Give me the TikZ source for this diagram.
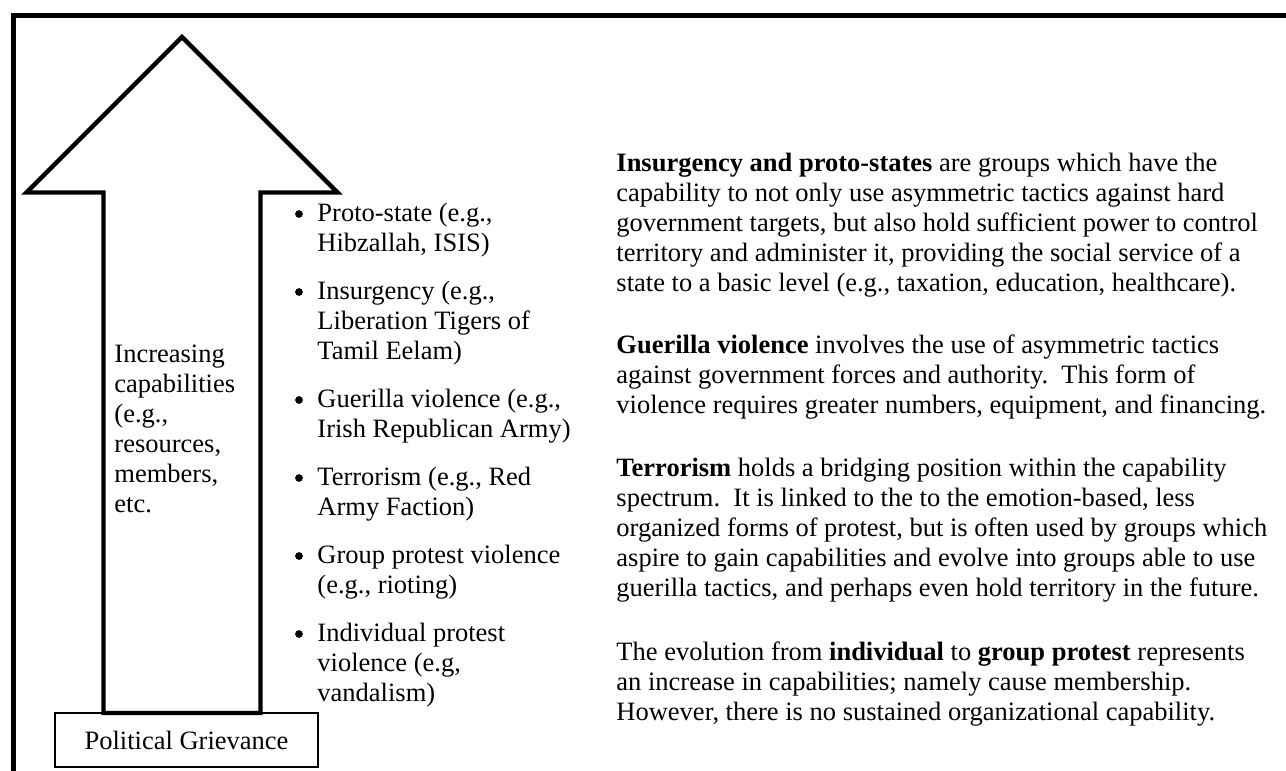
\documentclass[tikz,border=0pt]{standalone}
\usepackage{fontspec}
\setmainfont{Liberation Serif}
\usetikzlibrary{positioning}
\frenchspacing

\begin{document}
\begin{tikzpicture}[x=0.4528pt,y=-0.4528pt]
\tikzset{
  frameline/.style={line width=2.25pt,line cap=rect},
  bigarrow/.style={line width=2pt,line join=miter},
  grievancebox/.style={draw,line width=0.75pt,fill=white,minimum width=119.1pt,minimum height=24.5pt,inner sep=0pt,font=\fontsize{12}{13.5}\selectfont},
  bodytext/.style={inner sep=0pt,align=left,anchor=base west,font=\fontsize{12}{13.5}\selectfont},
  bulletmark/.style={circle,fill,inner sep=0pt,minimum size=3.5pt}
}
\useasboundingbox (0,0) rectangle (1286,770);

% outer frame (open on the right and at the bottom)
\draw[frameline] (13.5,770) -- (13.5,15.8) -- (1286,15.8);

% base box and the big upward arrow
\node[grievancebox] (grievance) at (186.5,740) {Political Grievance};
\draw[bigarrow] (182,37) -- (337.5,192.5) -- (260.5,192.5) -- (260.5,713)
  -- (103.5,713) -- (103.5,192.5) -- (26.5,192.5) -- cycle;

% base anchor of a multi-line node = its last line
\node[bodytext] (capabilities) at (114,512) {Increasing\\capabilities\\(e.g.,\\resources,\\members,\\etc.};

% levels of violence (first baseline / number of lines / text)
\foreach \yy/\nl/\txt [count=\i] in {
  222/2/{Proto-state (e.g.,\\Hibzallah, ISIS)},
  300/3/{Insurgency (e.g.,\\Liberation Tigers of\\Tamil Eelam)},
  408/2/{Guerilla violence (e.g.,\\Irish Republican Army)},
  486/2/{Terrorism (e.g., Red\\Army Faction)},
  564/2/{Group protest violence\\(e.g., rioting)},
  642/3/{Individual protest\\violence (e.g,\\vandalism)}}{
  \node[bulletmark] (bul\i) at (299,\yy-8) {};
  \node[bodytext] (level\i) at (317,{\yy+(\nl-1)*29.8}) {\txt};
}

% descriptions
\node[bodytext] (insurgency) at (616,291.2) {\textbf{Insurgency and proto-states} are groups which have the\\
capability to not only use asymmetric tactics against hard\\
government targets, but also hold sufficient power to control\\
territory and administer it, providing the social service of a\\
state to a basic level (e.g., taxation, education, healthcare).};
\node[bodytext] (guerilla) at (616,413.6) {\textbf{Guerilla violence} involves the use of asymmetric tactics\\
against government forces and authority.\ \ This form of\\
violence requires greater numbers, equipment, and financing.};
\node[bodytext] (terrorism) at (616,596.2) {\textbf{Terrorism} holds a bridging position within the capability\\
spectrum.\ \ It is linked to the to the emotion-based, less\\
organized forms of protest, but is often used by groups which\\
aspire to gain capabilities and evolve into groups able to use\\
guerilla tactics, and perhaps even hold territory in the future.};
\node[bodytext] (evolution) at (616,720.6) {The evolution from \textbf{individual} to \textbf{group protest} represents\\
an increase in capabilities; namely cause membership.\\
However, there is no sustained organizational capability.};
\end{tikzpicture}
\end{document}
